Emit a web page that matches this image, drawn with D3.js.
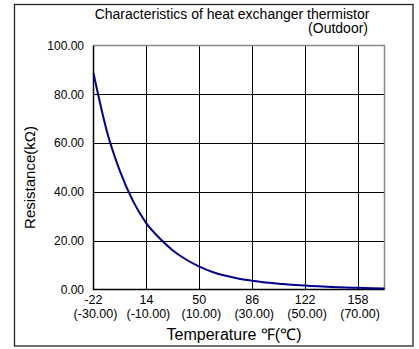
<!DOCTYPE html>
<html>
  <head>
    <title>Heat exchanger thermistor</title>
    <script src="https://d3js.org/d3.v7.min.js"></script>
    <style>
      body { margin: 0; background: white; }
      text { font-family: Arial, "Liberation Sans", sans-serif; fill: black; }
    </style>
  </head>
  <body>
    <script>
      // readings (deg C -> kOhm)
      const tempC = [-30, -25, -20, -15, -10, -5, 0, 5, 10, 15, 20, 25, 30, 35, 40, 45, 50, 55, 60, 65, 70, 75, 80];
      const resistance = [88.6, 65.1, 48.5, 36.1, 27.1, 21.0, 16.0, 12.3, 9.4, 7.2, 5.6, 4.4, 3.6, 2.9, 2.4, 1.9, 1.6, 1.3, 1.05, 0.85, 0.7, 0.55, 0.45];

      const xTicks = [-30, -10, 10, 30, 50, 70];
      const xTickF = ["-22", "14", "50", "86", "122", "158"];
      const xTickC = ["(-30.00)", "(-10.00)", "(10.00)", "(30.00)", "(50.00)", "(70.00)"];
      const yTicks = [0, 20, 40, 60, 80, 100];

      let width = 419, height = 349;
      let pLeft = 93.5, pRight = 384.5, pTop = 45.5, pBottom = 289.5;

      let svg = d3.select("body").append("svg")
                  .attr("width", width)
                  .attr("height", height);

      // outer frame
      svg.append("rect")
         .attr("x", 14.5).attr("y", 4.5)
         .attr("width", 398.5).attr("height", 341.5)
         .attr("fill", "none").attr("stroke", "#222").attr("stroke-width", 1.3);

      let x = d3.scaleLinear().domain([-30, 80]).range([pLeft, pRight]);
      let y = d3.scaleLinear().domain([0, 100]).range([pBottom, pTop]);

      // grid
      svg.append("g").selectAll("line").data(yTicks.slice(1, -1))
         .enter().append("line")
         .attr("x1", pLeft).attr("x2", pRight)
         .attr("y1", d => Math.round(y(d)) + 0.5).attr("y2", d => Math.round(y(d)) + 0.5)
         .attr("stroke", "#000").attr("stroke-width", 1);

      svg.append("g").selectAll("line").data(xTicks.slice(1))
         .enter().append("line")
         .attr("x1", d => Math.round(x(d)) + 0.5).attr("x2", d => Math.round(x(d)) + 0.5)
         .attr("y1", pTop).attr("y2", pBottom)
         .attr("stroke", "#000").attr("stroke-width", 1);

      // top and right edge (grey)
      svg.append("path")
         .attr("d", `M${pLeft},${pTop}H${pRight}V${pBottom}`)
         .attr("fill", "none").attr("stroke", "#888").attr("stroke-width", 1.5);

      // left and bottom axis
      svg.append("path")
         .attr("d", `M${pLeft},${pTop}V${pBottom}H${pRight}`)
         .attr("fill", "none").attr("stroke", "#000").attr("stroke-width", 1.5);

      // curve
      let line = d3.line()
                   .x((d, i) => x(tempC[i]))
                   .y(d => y(d))
                   .curve(d3.curveMonotoneX);

      svg.append("path")
         .attr("d", line(resistance))
         .attr("fill", "none")
         .attr("stroke", "#000090")
         .attr("stroke-width", 2);

      // y tick labels
      svg.append("g").selectAll("text").data(yTicks)
         .enter().append("text")
         .attr("x", 84).attr("y", d => y(d))
         .attr("dy", "0.35em")
         .attr("text-anchor", "end")
         .style("font-size", "12px")
         .text(d => d.toFixed(2));

      // x tick labels (F over C)
      let xl = svg.append("g").selectAll("g").data(xTicks)
                  .enter().append("g");
      xl.append("text")
        .attr("x", d => x(d)).attr("y", 303.5)
        .attr("text-anchor", "middle")
        .style("font-size", "12.5px")
        .text((d, i) => xTickF[i]);
      xl.append("text")
        .attr("x", d => x(d) + 2).attr("y", 318)
        .attr("text-anchor", "middle")
        .style("font-size", "12.5px")
        .text((d, i) => xTickC[i]);

      // titles
      svg.append("text")
         .attr("x", 232).attr("y", 18.5)
         .attr("text-anchor", "middle")
         .style("font-size", "14px")
         .text("Characteristics of heat exchanger thermistor");
      svg.append("text")
         .attr("x", 368).attr("y", 33)
         .attr("text-anchor", "end")
         .style("font-size", "14px")
         .text("(Outdoor)");

      svg.append("text")
         .attr("x", 234).attr("y", 340)
         .attr("text-anchor", "middle")
         .style("font-size", "16px")
         .text("Temperature ℉(℃)");

      svg.append("text")
         .attr("transform", `translate(35, ${(pTop + pBottom) / 2 + 10}) rotate(-90)`)
         .attr("text-anchor", "middle")
         .style("font-size", "15px")
         .text("Resistance(kΩ)");
    </script>
  </body>
</html>
